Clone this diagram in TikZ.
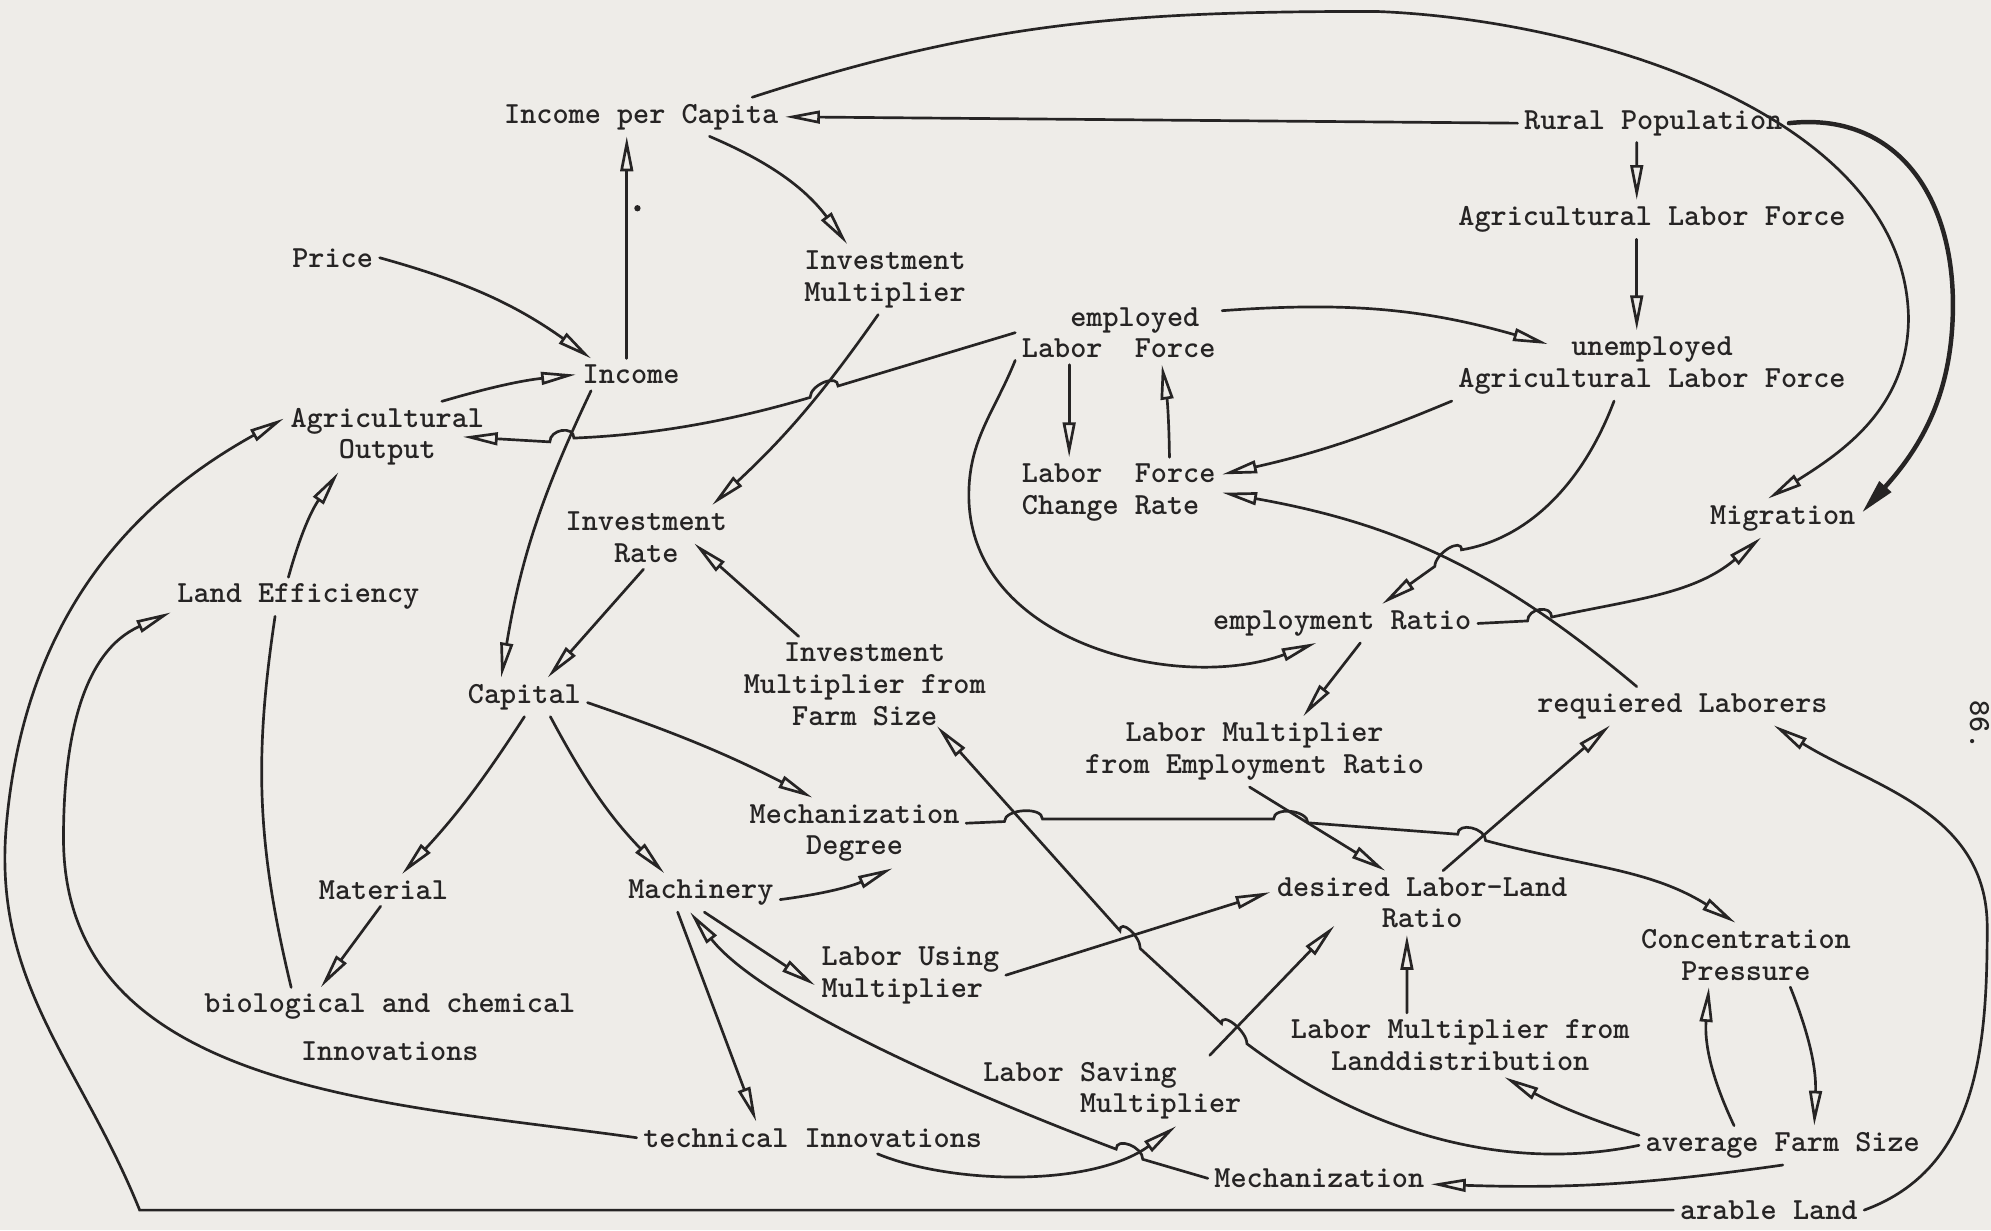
\documentclass[tikz,border=0pt]{standalone}
\usepackage{fontspec}
\usepackage{tikz}
\usetikzlibrary{arrows.meta}

\definecolor{paper}{RGB}{238,236,232}
\definecolor{ink}{RGB}{38,36,36}

\begin{document}
\begin{tikzpicture}[x=0.02cm,y=0.02cm,
    var/.style={font=\ttfamily\bfseries\fontsize{13.77pt}{14.23pt}\selectfont,
      text=ink,inner sep=2.8pt,align=center},
    link/.style={draw=ink,line width=1.2pt,line cap=round},
    arr/.style={link,-{Triangle[open,length=5.5mm,width=2mm]}},
    heavyarr/.style={link,line width=2pt,-{Triangle[length=5.5mm,width=2.4mm]}}]
  \path[fill=paper,use as bounding box]
    (0,0)
    rectangle
    (1568,-969);

  \node[var] (IPC) at (505,-92) {Income per Capita};
  \node[var] (RP) at (1302,-97) {Rural Population};
  \node[var] (ALF) at (1301,-173) {Agricultural Labor Force};
  \node[var] (Price) at (262,-203) {Price};
  \node[var] (IM) at (697,-220) {Investment\\Multiplier};
  \node[var,align=left] (ELF) at (881,-262) {\phantom{Lab}employed\\Labor~~Force};
  \node[var] (UALF) at (1301,-288) {unemployed\\Agricultural Labor Force};
  \node[var] (Income) at (497,-295) {Income};
  \node[var] (AO) at (305,-344) {Agricultural\\Output};
  \node[var,align=left] (LFCR) at (881,-388) {Labor~~Force\\Change Rate};
  \node[var] (Migration) at (1404,-408) {Migration};
  \node[var] (IR) at (509,-423) {Investment\\Rate};
  \node[var] (LE) at (235,-470) {Land Efficiency};
  \node[var] (ER) at (1057,-491) {employment Ratio};
  \node[var] (IMFS) at (681,-539) {Investment\\Multiplier from\\Farm Size};
  \node[var] (Capital) at (413,-549) {Capital};
  \node[var] (RL) at (1325,-556) {requiered Laborers};
  \node[var] (LMER) at (988,-592) {Labor Multiplier\\from Employment Ratio};
  \node[var] (MD) at (673,-656) {Mechanization\\Degree};
  \node[var] (Material) at (302,-701) {Material};
  \node[var] (Machinery) at (552,-703) {Machinery};
  \node[var] (DLLR) at (1120,-711) {desired Labor-Land\\Ratio};
  \node[var,align=left] (LUM) at (717,-768) {Labor Using\\Multiplier};
  \node[var] (CP) at (1375,-752) {Concentration\\Pressure};
  \node[var] (BCI) at (307,-809) {biological and chemical\\[7pt]Innovations};
  \node[var] (LMLD) at (1150,-823) {Labor Multiplier from\\Landdistribution};
  \node[var,align=left] (LSM) at (876,-859) {Labor Saving\\\phantom{Labor }Multiplier};
  \node[var] (TI) at (640,-896) {technical Innovations};
  \node[var] (AFS) at (1404,-902) {average Farm Size};
  \node[var] (Mech) at (1039,-928) {Mechanization};
  \node[var] (AL) at (1393,-953) {arable Land};
  \node[var,rotate=-90] (Page) at (1559,-571) {86.};

  \fill[ink] (502,-164) circle[radius=0.05cm];

  \draw[arr]
    (RP.west)
    --
    (IPC.east);
  \draw[arr]
    (IPC.-16)
    to[bend left=15]
    (IM.137);
  \draw[arr]
    (Income.105)
    --
    (Income.105 |- IPC.south);
  \draw[arr]
    (Price.east)
    to[bend left=10]
    (Income.158);
  \draw[arr]
    (AO.33)
    to[bend left=5]
    (Income.west);
  \draw[arr]
    (ELF.west)
    -- (660,-304)
    .. controls +(0,10) and +(0,10) .. (638,-313)
    .. controls (560,-336) and (500,-343) .. (452,-345)
    .. controls +(0,10) and +(0,10) .. (433,-348)
    -- ([xshift=-0.44cm]AO.east);
  \draw[arr]
    (Income.-158)
    to[bend right=8]
    (Capital.140);
  \draw[arr]
    (IMFS.144)
    --
    ([xshift=-0.62cm,yshift=-0.1cm]IR.east);
  \draw[arr]
    (IM.-101)
    to[bend left=6]
    (IR.26);
  \draw[arr]
    (IR.-95)
    --
    (Capital.40);
  \draw[arr]
    (Capital.south)
    to[bend left=5]
    (Material.41);
  \draw[arr]
    (Capital.-37)
    to[bend right=8]
    (Machinery.152);
  \draw[arr]
    (Capital.-5)
    to[bend left=4]
    (MD.140);
  \draw[arr]
    (Machinery.-5)
    to[bend right=8]
    (MD.-43);
  \draw[arr]
    (Material.-100)
    --
    (BCI.150);
  \draw[link]
    (BCI.158)
    to[bend left=11]
    (LE.-140);
  \draw[arr]
    (LE.117)
    to[bend left=10]
    (AO.-144);
  \draw[arr]
    (TI.west)
    to[out=172,in=-90] (50,-660)
    to[out=90,in=-156] (LE.-173);
  \draw[arr]
    (AL.west)
    -- (110,-953)
    to[out=112,in=-95] (5,-650)
    to[out=85,in=-151] (AO.170);
  \draw[arr]
    (Machinery.-140)
    --
    (TI.164);
  \draw[arr]
    (Machinery.-80)
    --
    (LUM.-174);
  \draw[arr]
    (Mech.west)
    -- (900,-913)
    .. controls +(0,10) and +(0,10) .. (879,-905)
    .. controls (760,-860) and (600,-790) .. (Machinery.-119);
  \draw[arr]
    (TI.-14)
    .. controls (750,-933) and (860,-935) ..
    (LSM.-29);
  \draw[arr]
    (LUM.east)
    --
    (DLLR.176);
  \draw[arr]
    (AFS.west)
    .. controls (1180,-925) and (1070,-888) .. (982,-822)
    .. controls +(0,10) and +(0,10) .. (962,-806)
    -- (898,-747)
    .. controls +(0,10) and +(0,10) .. (882,-733)
    -- ([shift={(57,-33)}]IMFS.center);
  \draw[arr]
    (LSM.20)
    --
    ([shift={(-69,-18)}]DLLR.center);
  \draw[arr]
    ([xshift=-0.84cm]LMLD.north)
    --
    ([xshift=-0.24cm]DLLR.south);
  \draw[arr]
    (AFS.176)
    to[bend left=5]
    (LMLD.-36);
  \draw[arr]
    (AFS.158)
    to[bend left=15]
    (CP.-139);
  \draw[arr]
    (CP.-36)
    to[bend left=12]
    (AFS.32);
  \draw[arr]
    (AFS.south)
    to[bend left=5]
    (Mech.-3);
  \draw[arr]
    (AL.east)
    to[out=20,in=-90] (1565,-730)
    to[out=90,in=-32] (RL.-12);
  \draw[arr]
    (MD.5)
    -- (791,-647)
    .. controls +(0,10) and +(0,10) .. (821,-645)
    -- (1003,-645)
    .. controls +(0,10) and +(0,10) .. (1030,-648)
    -- (1148,-657)
    .. controls +(0,10) and +(0,10) .. (1170,-662)
    to[out=-15,in=148] (CP.108);
  \draw[arr]
    (DLLR.57)
    --
    (RL.-165);
  \draw[arr]
    (LMER.-98)
    --
    (DLLR.139);
  \draw[arr]
    (ER.-47)
    --
    (LMER.36);
  \draw[arr]
    (RL.157)
    to[bend right=15]
    (LFCR.east);
  \draw[arr]
    (ER.east)
    -- (1203,-489)
    .. controls +(0,10) and +(0,10) .. (1222,-486)
    to[out=12,in=-140] (Migration.-138);
  \draw[arr]
    (UALF.-137)
    .. controls (1245,-385) and (1200,-425) .. (1151,-433)
    .. controls +(0,10) and +(0,10) .. (1130,-446)
    -- (ER.26);
  \draw[arr]
    (UALF.south west)
    to[bend left=5]
    (LFCR.10);
  \draw[arr]
    (ELF.12)
    to[bend left=10]
    ([shift={(-82,17)}]UALF.center);
  \draw[arr]
    ([xshift=-0.24cm]ALF.south)
    --
    ([xshift=-0.24cm]UALF.north);
  \draw[arr]
    ([xshift=-0.26cm]RP.south)
    --
    ([xshift=-0.24cm]ALF.north);
  \draw[arr]
    (IPC.10)
    to[out=18,in=180] (1083,-9)
    .. controls (1250,-15) and (1500,-90) .. (1503,-250)
    to[out=-90,in=32] (Migration.127);
  \draw[heavyarr]
    (RP.east)
    .. controls (1490,-88) and (1538,-150) .. (1538,-240)
    to[out=-90,in=48] (Migration.4);
  \draw[arr]
    ([xshift=-0.78cm]ELF.south)
    --
    ([xshift=-0.78cm]LFCR.north);
  \draw[arr]
    ([xshift=0.8cm]LFCR.north)
    to[bend right=4]
    ([xshift=0.68cm]ELF.south);
  \draw[arr]
    (ELF.-165)
    to[out=-112,in=90] (763,-390)
    to[out=-90,in=-160] (ER.-143);
\end{tikzpicture}
\end{document}
